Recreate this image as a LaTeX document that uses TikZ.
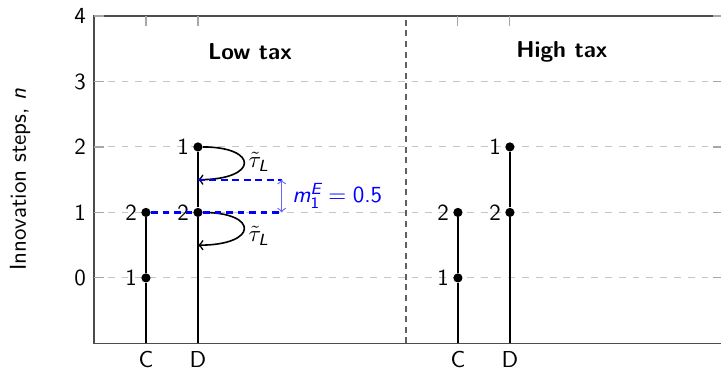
\documentclass[tikz,border=0pt]{standalone}
\usepackage{amsmath}
\newcommand{\sfit}[1]{\textsf{\itshape #1}}

\begin{document}
\begin{tikzpicture}[x=0.794cm,y=1cm,font=\sffamily,label distance=-1.8pt,
    vtx/.style={circle,fill=black,inner sep=0pt,minimum size=4pt},
    gridline/.style={gray!45,dashed,line width=0.4pt},
    frameline/.style={black!70,line width=0.6pt},
    tickmark/.style={gray!70,line width=0.5pt},
    stem/.style={black,line width=0.8pt},
    loopy/.style={->,black,line width=0.7pt},
    gap/.style={blue,line width=1pt,dash pattern=on 3pt off 2pt},
    gaparrow/.style={<->,blue!60,line width=0.5pt}]
    \useasboundingbox (-1.807,-1.389) rectangle (12.06,4.244);
    % grid and the divider
    \foreach \y in {0,...,3}
      \draw[gridline] (0,\y) -- (12.1,\y);
    \draw[gray!75!black,semithick,dash pattern=on 2.6pt off 2pt] (6,-1) -- (6,4);
    % frame, ticks, tick labels
    \draw[frameline] (12.1,4) -- (0,4) -- (0,-1) -- (12.1,-1);
    \foreach \x in {1,2,7,8} {
      \draw[tickmark] (\x,4) -- ++(0,-0.15);
      \draw[tickmark] (\x,-1) -- ++(0,0.15);
    }
    \foreach \y in {0,...,4} {
      \draw[tickmark] (0,\y) -- ++(0.15cm,0);
      \draw[tickmark] (12.1,\y) -- ++(-0.15cm,0);
      \node[left] (yt\y) at (0,\y) {\y};
    }
    \node[below] (xcl) at (1,-1) {C};
    \node[below] (xdl) at (2,-1) {D};
    \node[below] (xch) at (7,-1) {C};
    \node[below] (xdh) at (8,-1) {D};
    \node[rotate=90] (ylab) at (-1.42,1.5) {Innovation steps, \sfit{n}};
    \node[font=\sffamily\bfseries] (low) at (3,3.45) {Low tax};
    \node[font=\sffamily\bfseries] (high) at (9,3.45) {High tax};

    % low tax
    \coordinate (lcb) at (1,-1);
    \coordinate (ldb) at (2,-1);
    \node[vtx,label=left:1] (lc0) at (1,0) {};
    \node[vtx,label=left:2] (lc1) at (1,1) {};
    \node[vtx,label=left:2] (ld1) at (2,1) {};
    \node[vtx,label=left:1] (ld2) at (2,2) {};
    \draw[stem] (lcb) -- (lc0) -- (lc1);
    \draw[stem] (ldb) -- (ld1) -- (ld2);
    \coordinate (lmid) at (2,1.5);
    \coordinate (lbot) at (2,0.5);
    \draw[loopy] (ld2) .. controls (3.17,2) and (3.17,1.5) .. (lmid);
    \draw[loopy] (ld1) .. controls (3.17,1) and (3.17,0.5) .. (lbot);
    \node (tau1) at (3.17,1.77) {$\tilde{\tau}_{\sfit{L}}$};
    \node (tau2) at (3.17,0.64) {$\tilde{\tau}_{\sfit{L}}$};
    \coordinate (gtop) at (3.61,1.5);
    \coordinate (gbot) at (3.61,1);
    \draw[gap] (lmid) -- (gtop);
    \draw[gap] (lc1) -- (ld1) -- (gbot);
    \draw[gaparrow] (gtop) -- (gbot);
    \node[blue,anchor=west] (mlab) at (3.66,1.25) {$\sfit{m}_{\textsf{1}}^{\sfit{E}} = \textsf{0.5}$};

    % high tax
    \coordinate (hcb) at (7,-1);
    \coordinate (hdb) at (8,-1);
    \node[vtx,label=left:1] (hc0) at (7,0) {};
    \node[vtx,label=left:2] (hc1) at (7,1) {};
    \node[vtx,label=left:2] (hd1) at (8,1) {};
    \node[vtx,label=left:1] (hd2) at (8,2) {};
    \draw[stem] (hcb) -- (hc0) -- (hc1);
    \draw[stem] (hdb) -- (hd1) -- (hd2);
\end{tikzpicture}
\end{document}
